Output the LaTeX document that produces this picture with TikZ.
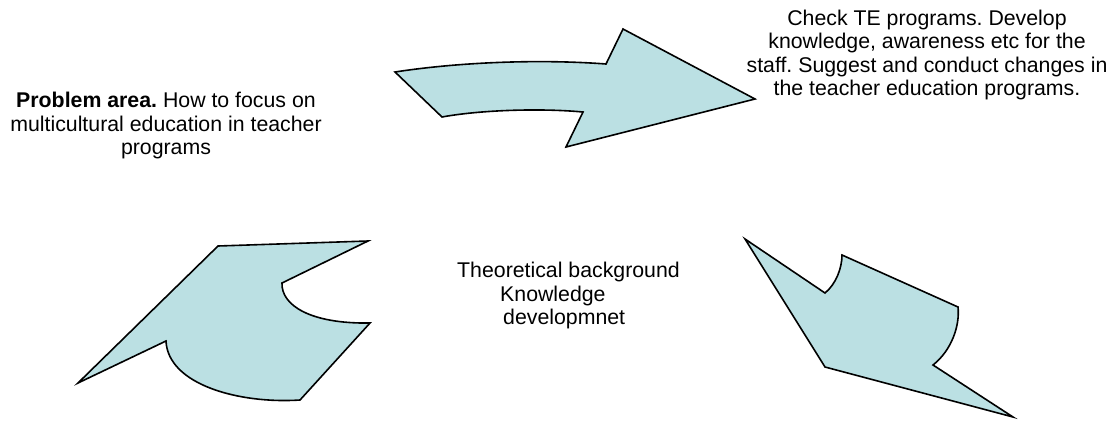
\documentclass[tikz,border=0pt]{standalone}
\usepackage{fontspec}
\setmainfont{Liberation Sans}
\usetikzlibrary{calc,%
		positioning}
\definecolor{paleblue}{RGB}{187,224,227}
\frenchspacing

\begin{document}
\begin{tikzpicture}[x=1pt,y=-1pt,font=\fontsize{21.3}{23.5}\selectfont,
	bluearrow/.style={draw=black,fill=paleblue,line width=1.6pt},
	label text/.style={align=center,inner sep=0pt}]

\useasboundingbox (0,0) rectangle (1115,421);

% upper arrow
\begin{scope}
\coordinate (a1) at (395,72);
\coordinate (a2) at (606,64);
\coordinate (a3) at (623,29);
\coordinate (a4) at (755,99);
\coordinate (a5) at (566,147);
\coordinate (a6) at (583,112);
\coordinate (a7) at (442,117);

\draw[bluearrow] (a1) .. controls (460,62) and (540,59) .. (a2) -- (a3) -- (a4)
	-- (a5) -- (a6) .. controls (540,108) and (480,110) .. (a7) -- cycle;
\end{scope}

% lower left arrow
\begin{scope}
\coordinate (b1) at (218,246);
\coordinate (b2) at (368,241);
\coordinate (b3) at (282,283);
\coordinate (b4) at (370,323);
\coordinate (b5) at (300,400);
\coordinate (b6) at (166,341);
\coordinate (b7) at (78,383);

\draw[bluearrow] (b1) -- (b2) -- (b3) .. controls (281,305) and (310,324) .. (b4)
	-- (b5) .. controls (240,404) and (168,385) .. (b6) -- (b7) -- cycle;
\end{scope}

% lower right arrow
\begin{scope}
\coordinate (c1) at (745,239);
\coordinate (c2) at (825,293);
\coordinate (c3) at (842,255);
\coordinate (c4) at (958,307);
\coordinate (c5) at (933,365);
\coordinate (c6) at (1013,417);
\coordinate (c7) at (825,367);

\draw[bluearrow] (c1) -- (c2) .. controls (836,284) and (842,268) .. (c3) -- (c4)
	.. controls (960,325) and (952,350) .. (c5) -- (c6) -- (c7) -- cycle;
\end{scope}

\node[label text] (problem) at (166,125.5)
	{\textbf{Problem area.} How to focus on\\multicultural education in teacher\\programs};
\node[label text] (check) at (927,55)
	{Check TE programs. Develop\\knowledge, awareness etc for the\\staff. Suggest and conduct changes in\\the teacher education programs.};
\node[label text,align=left,anchor=north west] (theory) at (457,262)
	{Theoretical background\\\hspace*{43pt}Knowledge\\\hspace*{46pt}developmnet};

\end{tikzpicture}
\end{document}
